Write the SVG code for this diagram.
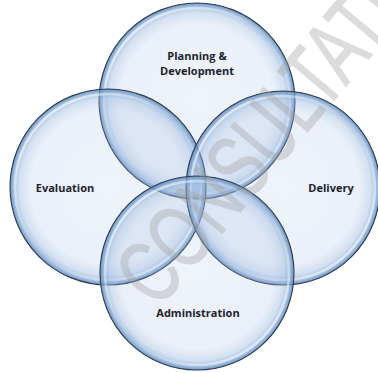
<svg xmlns="http://www.w3.org/2000/svg" width="378" height="373" viewBox="0 0 378 373">
  <defs>
    <radialGradient id="bub" cx="0.5" cy="0.5" r="0.5">
      <stop offset="0" stop-color="#a6bde3" stop-opacity="0.18"/>
      <stop offset="0.78" stop-color="#a6bde3" stop-opacity="0.22"/>
      <stop offset="0.9" stop-color="#98b8de" stop-opacity="0.42"/>
      <stop offset="0.97" stop-color="#769fce" stop-opacity="0.72"/>
      <stop offset="1" stop-color="#5a87bd" stop-opacity="0.88"/>
    </radialGradient>
    <linearGradient id="hl" x1="0" y1="0" x2="1" y2="1">
      <stop offset="0" stop-color="#ffffff" stop-opacity="0.9"/>
      <stop offset="0.5" stop-color="#ffffff" stop-opacity="0"/>
      <stop offset="1" stop-color="#ffffff" stop-opacity="0.85"/>
    </linearGradient>
  </defs>
  <style>
    .c { fill: url(#bub); stroke: #2e3b4c; stroke-width: 1.1; }
    .h { fill: none; stroke: url(#hl); stroke-width: 2.5; }
    .t { font-family: "Open Sans", "Liberation Sans", sans-serif; font-weight: 700; font-size: 11px; fill: #1c2230; text-anchor: middle; }
    .w { font-family: "Liberation Sans", Arial, sans-serif; font-size: 90px; fill: #a0a0a0; stroke: #a0a0a0; stroke-width: 1.5; stroke-linejoin: round; }
  </style>
  <rect width="378" height="373" fill="#ffffff"/>
  <g id="node-top">
    <circle class="c" cx="197" cy="101" r="98"/>
    <circle class="h" cx="197" cy="101" r="93"/>
  </g>
  <g id="node-left">
    <circle class="c" cx="108" cy="187" r="98"/>
    <circle class="h" cx="108" cy="187" r="93"/>
  </g>
  <g id="node-right">
    <circle class="c" cx="283" cy="188" r="97"/>
    <circle class="h" cx="283" cy="188" r="92"/>
  </g>
  <g id="node-bottom">
    <circle class="c" cx="197" cy="273" r="97"/>
    <circle class="h" cx="197" cy="273" r="92"/>
  </g>
  <g id="connectors"/>
  <g id="labels">
    <text class="t" x="197" y="60">Planning &amp;</text>
    <text class="t" x="197" y="75">Development</text>
    <text class="t" x="65" y="192">Evaluation</text>
    <text class="t" x="331" y="192">Delivery</text>
    <text class="t" x="198" y="317">Administration</text>
  </g>
  <g id="watermark" opacity="0.36">
    <text class="w" transform="translate(158,310) rotate(-50) scale(0.7,1)">CONSULTATION</text>
  </g>
</svg>
